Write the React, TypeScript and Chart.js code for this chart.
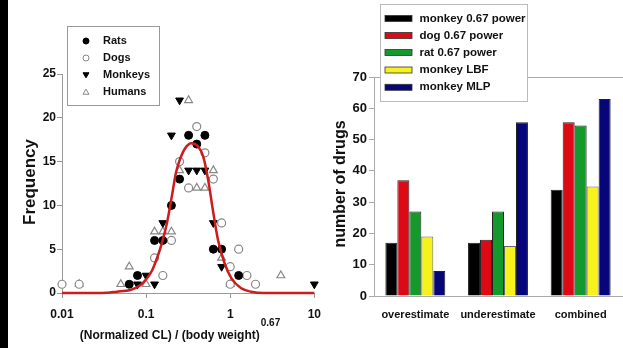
import React, { useEffect, useRef } from 'react';
import { Chart, registerables } from 'chart.js';

Chart.register(...registerables);

const FONT = "'Liberation Sans', Arial, Helvetica, sans-serif";

// ---------- Left panel data ----------
const xTickValues = [0.01, 0.1, 1, 10];
const xTickLabels = ['0.01', '0.1', '1', '10'];

const ratsX = [0.063, 0.079, 0.126, 0.158, 0.2, 0.25, 0.32, 0.4, 0.5, 0.63, 0.79, 1.26];
const ratsY = [1, 2, 6, 6, 10, 13, 18, 17, 18, 5, 5, 2];

const dogsX = [0.01, 0.016, 0.126, 0.158, 0.2, 0.25, 0.32, 0.4, 0.5, 0.63, 0.79, 1.0, 1.0, 1.26, 1.58, 2.0];
const dogsY = [1, 1, 4, 2, 6, 15, 12, 19, 16, 13, 8, 3, 1, 5, 2, 1];

const monkeysX = [0.079, 0.1, 0.126, 0.158, 0.2, 0.25, 0.32, 0.4, 0.5, 0.63, 0.79, 10];
const monkeysY = [1, 2, 1, 8, 18, 22, 14, 14, 14, 8, 3, 1];

const humansX = [0.016, 0.05, 0.063, 0.1, 0.126, 0.158, 0.2, 0.25, 0.32, 0.4, 0.5, 0.63, 0.79, 1.0, 4.0];
const humansY = [1, 1, 3, 1, 7, 7, 7, 14, 22, 12, 12, 14, 4, 1, 2];

// fitted curve
const curveX = [0.01, 0.03, 0.045, 0.065, 0.086, 0.103, 0.118, 0.135, 0.154, 0.177, 0.202, 0.225, 0.243, 0.29, 0.347, 0.417, 0.477, 0.547, 0.626, 0.716, 0.857, 1.03, 1.35, 1.77, 2.5, 10];
const curveY = [0, 0, 0.15, 0.35, 0.9, 1.7, 2.6, 4.0, 5.7, 8.0, 11.0, 13.6, 14.8, 16.5, 17.1, 16.7, 15.6, 12.9, 9.3, 6.05, 3.4, 1.7, 0.54, 0.15, 0, 0];

const leftLegendLabels = ['Rats', 'Dogs', 'Monkeys', 'Humans'];
const leftYTitle = 'Frequency';
const leftXTitle = '(Normalized CL) / (body weight)';
const leftXTitleSup = '0.67';

// ---------- Right panel data ----------
const categories = ['overestimate', 'underestimate', 'combined'];
const monkey067 = [17, 17, 34];
const dog067 = [37, 18, 55.5];
const rat067 = [27, 27, 54.5];
const monkeyLBF = [19, 16, 35];
const monkeyMLP = [8, 55.5, 63];
const barLabels = ['monkey 0.67 power', 'dog 0.67 power', 'rat 0.67 power', 'monkey LBF', 'monkey MLP'];
const barColors = ['#000000', '#dd0a16', '#16992c', '#f7f21c', '#06067a'];
const rightYTitle = 'number of drugs';

function drawShape(ctx: CanvasRenderingContext2D, kind: string, x: number, y: number, r: number, fill: string, stroke: string) {
  ctx.save();
  ctx.beginPath();
  if (kind === 'circle') {
    ctx.arc(x, y, r, 0, Math.PI * 2);
  } else if (kind === 'down') {
    ctx.moveTo(x - r, y - r * 0.75);
    ctx.lineTo(x + r, y - r * 0.75);
    ctx.lineTo(x, y + r * 0.95);
    ctx.closePath();
  } else {
    ctx.moveTo(x - r, y + r * 0.75);
    ctx.lineTo(x + r, y + r * 0.75);
    ctx.lineTo(x, y - r * 0.95);
    ctx.closePath();
  }
  ctx.fillStyle = fill;
  ctx.fill();
  ctx.lineWidth = 1;
  ctx.strokeStyle = stroke;
  ctx.stroke();
  ctx.restore();
}

const leftDecor = {
  id: 'leftDecor',
  afterDraw(chart: any) {
    const ctx: CanvasRenderingContext2D = chart.ctx;
    ctx.save();
    // y title
    ctx.fillStyle = '#111';
    ctx.font = `bold 17px ${FONT}`;
    ctx.textAlign = 'center';
    ctx.textBaseline = 'middle';
    ctx.translate(30, 182);
    ctx.rotate(-Math.PI / 2);
    ctx.fillText(leftYTitle, 0, 0);
    ctx.restore();

    // x title with superscript
    ctx.save();
    ctx.fillStyle = '#111';
    ctx.font = `bold 12px ${FONT}`;
    const w1 = ctx.measureText(leftXTitle).width;
    ctx.font = `bold 10px ${FONT}`;
    const w2 = ctx.measureText(leftXTitleSup).width;
    const start = 180 - (w1 + w2 + 1) / 2;
    ctx.textBaseline = 'alphabetic';
    ctx.textAlign = 'left';
    ctx.font = `bold 12px ${FONT}`;
    ctx.fillText(leftXTitle, start, 339);
    ctx.font = `bold 10px ${FONT}`;
    ctx.fillText(leftXTitleSup, start + w1 + 1, 326);
    ctx.restore();

    // legend
    ctx.save();
    ctx.fillStyle = '#fff';
    ctx.fillRect(67.5, 26.5, 92, 79);
    ctx.strokeStyle = '#999';
    ctx.lineWidth = 1;
    ctx.strokeRect(67.5, 26.5, 92, 79);
    const rows = [41, 58, 75, 92];
    const kinds = [
      ['circle', '#000', '#000'],
      ['circle', '#fff', '#888'],
      ['down', '#000', '#000'],
      ['up', '#fff', '#888'],
    ];
    rows.forEach((yy, i) => {
      const [k, f, s] = kinds[i];
      drawShape(ctx, k, 86, yy, 3, f, s);
      ctx.fillStyle = '#111';
      ctx.font = `bold 11px ${FONT}`;
      ctx.textAlign = 'left';
      ctx.textBaseline = 'middle';
      ctx.fillText(leftLegendLabels[i], 103, yy);
    });
    ctx.restore();
  },
};

const rightDecor = {
  id: 'rightDecor',
  beforeDatasetsDraw(chart: any) {
    const { ctx, chartArea } = chart;
    ctx.save();
    ctx.strokeStyle = '#aaa';
    ctx.lineWidth = 1;
    ctx.beginPath();
    ctx.moveTo(chartArea.left, Math.round(chartArea.top) + 0.5);
    ctx.lineTo(chart.width, Math.round(chartArea.top) + 0.5);
    ctx.stroke();
    ctx.restore();
  },
  afterDraw(chart: any) {
    const ctx: CanvasRenderingContext2D = chart.ctx;
    ctx.save();
    ctx.fillStyle = '#111';
    ctx.font = `bold 16px ${FONT}`;
    ctx.textAlign = 'center';
    ctx.textBaseline = 'middle';
    ctx.translate(11, 184);
    ctx.rotate(-Math.PI / 2);
    ctx.fillText(rightYTitle, 0, 0);
    ctx.restore();

    ctx.save();
    ctx.fillStyle = '#fff';
    ctx.fillRect(50.5, 4.5, 147, 97);
    ctx.strokeStyle = '#bbb';
    ctx.lineWidth = 1;
    ctx.strokeRect(50.5, 4.5, 147, 97);
    const rows = [18.5, 35.5, 52.5, 70, 87.3];
    rows.forEach((yy, i) => {
      ctx.fillStyle = barColors[i];
      ctx.fillRect(55, yy - 3, 27, 6);
      ctx.strokeStyle = '#333';
      ctx.lineWidth = 0.8;
      ctx.strokeRect(55, yy - 3, 27, 6);
      ctx.fillStyle = '#111';
      ctx.font = `bold 11.5px ${FONT}`;
      ctx.textAlign = 'left';
      ctx.textBaseline = 'middle';
      ctx.fillText(barLabels[i], 89.5, yy);
    });
    ctx.restore();
  },
};

export default function App() {
  const leftRef = useRef<HTMLCanvasElement>(null);
  const rightRef = useRef<HTMLCanvasElement>(null);

  useEffect(() => {
    document.body.style.margin = '0';
    const tickFont = { family: FONT, size: 12, weight: 'bold' as const };

    const pts = (xs: number[], ys: number[]) => xs.map((x, i) => ({ x, y: ys[i] }));

    const left = new Chart(leftRef.current as HTMLCanvasElement, {
      type: 'scatter',
      data: {
        datasets: [
          {
            label: 'fit',
            data: pts(curveX, curveY),
            showLine: true,
            borderColor: '#cc1c1c',
            borderWidth: 2.5,
            pointRadius: 0,
            cubicInterpolationMode: 'monotone',
            order: 0,
            clip: false,
          } as any,
          {
            label: leftLegendLabels[0],
            data: pts(ratsX, ratsY),
            pointStyle: 'circle',
            pointRadius: 4,
            backgroundColor: '#000',
            borderColor: '#000',
            borderWidth: 1,
            order: 1,
            clip: false,
          },
          {
            label: leftLegendLabels[1],
            data: pts(dogsX, dogsY),
            pointStyle: 'circle',
            pointRadius: 4,
            backgroundColor: '#fff',
            borderColor: '#888',
            borderWidth: 1.2,
            order: 2,
            clip: false,
          },
          {
            label: leftLegendLabels[2],
            data: pts(monkeysX, monkeysY),
            pointStyle: 'triangle',
            rotation: 180,
            pointRadius: 4.5,
            backgroundColor: '#000',
            borderColor: '#000',
            borderWidth: 1,
            order: 3,
            clip: false,
          },
          {
            label: leftLegendLabels[3],
            data: pts(humansX, humansY),
            pointStyle: 'triangle',
            pointRadius: 4.5,
            backgroundColor: '#fff',
            borderColor: '#888',
            borderWidth: 1.2,
            order: 4,
            clip: false,
          },
        ],
      },
      options: {
        responsive: false,
        animation: false,
        layout: { padding: { top: 74, right: 11, left: 0, bottom: 0 } },
        plugins: { legend: { display: false }, tooltip: { enabled: false } },
        scales: {
          x: {
            type: 'logarithmic',
            min: 0.01,
            max: 10,
            afterBuildTicks: (s: any) => {
              s.ticks = xTickValues.map((v) => ({ value: v }));
            },
            afterFit: (s: any) => {
              s.height = 55;
            },
            grid: { display: true, drawOnChartArea: false, drawTicks: true, tickLength: 5, color: '#999' },
            border: { display: true, color: '#999' },
            ticks: {
              callback: (_v: any, i: number) => xTickLabels[i],
              font: tickFont,
              color: '#111',
              padding: 9,
              maxRotation: 0,
              autoSkip: false,
            },
          },
          y: {
            min: 0,
            max: 25,
            afterFit: (s: any) => {
              s.width = 62;
            },
            grid: { display: true, drawOnChartArea: false, drawTicks: true, tickLength: 5, color: '#999' },
            border: { display: true, color: '#999' },
            ticks: { stepSize: 5, font: tickFont, color: '#111', padding: 1 },
          },
        },
      } as any,
      plugins: [leftDecor],
    });

    const barData = [monkey067, dog067, rat067, monkeyLBF, monkeyMLP];
    const right = new Chart(rightRef.current as HTMLCanvasElement, {
      type: 'bar',
      data: {
        labels: categories,
        datasets: barData.map((d, i) => ({
          label: barLabels[i],
          data: d,
          backgroundColor: barColors[i],
          borderColor: i === 3 ? '#666' : '#222',
          borderWidth: 1,
          categoryPercentage: 0.725,
          barPercentage: 1,
        })),
      },
      options: {
        responsive: false,
        animation: false,
        layout: { padding: { top: 77, right: 1, left: 0, bottom: 0 } },
        plugins: { legend: { display: false }, tooltip: { enabled: false } },
        scales: {
          x: {
            afterFit: (s: any) => {
              s.height = 52;
            },
            grid: { display: false, drawTicks: false },
            border: { display: true, color: '#aaa' },
            ticks: { font: { family: FONT, size: 11, weight: 'bold' }, color: '#111', padding: 12, maxRotation: 0 },
          },
          y: {
            min: 0,
            max: 70,
            afterFit: (s: any) => {
              s.width = 44;
            },
            grid: { display: true, drawOnChartArea: false, drawTicks: true, tickLength: 5, color: '#aaa' },
            border: { display: true, color: '#aaa' },
            ticks: { stepSize: 10, font: { family: FONT, size: 13, weight: 'bold' }, color: '#111', padding: 2 },
          },
        },
      } as any,
      plugins: [rightDecor],
    });

    return () => {
      left.destroy();
      right.destroy();
    };
  }, []);

  return (
    <div style={{ position: 'fixed', left: 0, top: 0, width: 623, height: 348, background: '#fff', overflow: 'hidden' }}>
      <div style={{ position: 'absolute', left: 0, top: 0, width: 8, height: 348, background: '#000' }} />
      <canvas ref={leftRef} width={330} height={348} style={{ position: 'absolute', left: 0, top: 0 }} />
      <canvas ref={rightRef} width={293} height={348} style={{ position: 'absolute', left: 330, top: 0 }} />
    </div>
  );
}
